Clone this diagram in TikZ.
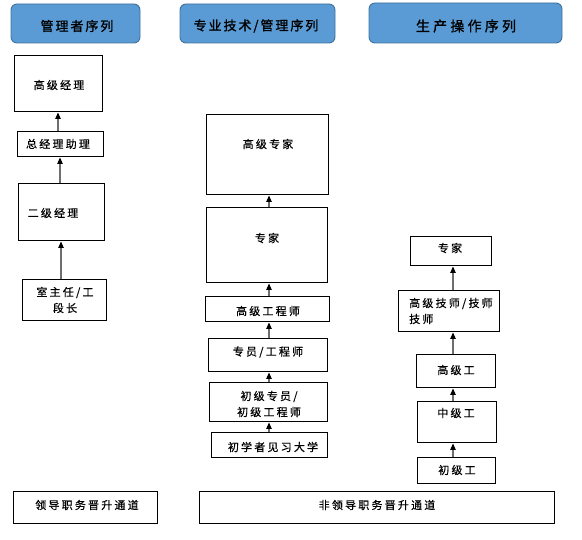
\documentclass[tikz,border=0pt]{standalone}
\usepackage{fontspec}
\newfontfamily\cjk{Noto Sans CJK SC}
\usetikzlibrary{arrows.meta}
\definecolor{hdrfill}{HTML}{5B9BD5}
\definecolor{hdrdraw}{HTML}{41719C}
\definecolor{arrgray}{HTML}{6E6E6E}
\tikzset{
  hdr/.style={draw=hdrdraw, line width=0.9pt, fill=hdrfill, rounded corners=6pt, inner sep=0pt},
  box/.style={draw=black, line width=1pt, inner sep=0pt},
  txt/.style={inner sep=0pt, font=\cjk\addfontfeatures{LetterSpace=20,FakeBold=0.6}\fontsize{11}{16}\selectfont},
  hdrtxt/.style={inner sep=0pt, font=\cjk\addfontfeatures{LetterSpace=15,FakeBold=1.2}\fontsize{13}{16}\selectfont},
  arr/.style={draw=arrgray, line width=1.2pt, -{Triangle[length=6.5pt,width=5.5pt,color=black]}},
}
\begin{document}
\begin{tikzpicture}[x=1pt,y=-1pt]
\useasboundingbox (0,0) rectangle (582,540);
% headers
\node[hdr, minimum width=129pt, minimum height=39pt] (h1) at (75.5,23.5) {};
\node[hdr, minimum width=155pt, minimum height=39pt] (h2) at (257.5,23.5) {};
\node[hdr, minimum width=193pt, minimum height=40pt] (h3) at (465.5,23) {};
\node[hdrtxt] (h1t) at (77,26) {管理者序列};
\node[hdrtxt] (h2t) at (256,26) {专业技术/管理序列};
\node[hdrtxt, font=\cjk\addfontfeatures{LetterSpace=23,FakeBold=1.2}\fontsize{14}{16}\selectfont] (h3t) at (466,26) {生产操作序列};
% left column
\node[box, minimum width=88pt, minimum height=56pt] (gj) at (58,84) {};
\node[box, minimum width=86pt, minimum height=25pt] (zl) at (60,144.5) {};
\node[box, minimum width=86pt, minimum height=57pt] (ej) at (61,212.5) {};
\node[box, minimum width=84pt, minimum height=41pt] (sz) at (64,300.5) {};
\node[txt] (gjt) at (59,85) {高级经理};
\node[txt] (zlt) at (58,144) {总经理助理};
\node[txt] (ejt) at (53,213) {二级经理};
\node[txt, align=center] (szt) at (65,300) {室主任/工\\段长};
\draw[arr] (zl.north -| gj.south) -- (gj.south);
\draw[arr] (ej.north -| zl.south) -- (zl.south);
\draw[arr] (sz.north -| ej.south) -- (ej.south);
% middle column
\node[box, minimum width=122pt, minimum height=80pt] (gzj) at (267,155) {};
\node[box, minimum width=121pt, minimum height=75pt] (mzj) at (266.5,245.5) {};
\node[box, minimum width=124pt, minimum height=25pt] (gcs) at (267,309.5) {};
\node[box, minimum width=119pt, minimum height=33pt] (zy) at (267.5,355.5) {};
\node[box, minimum width=118pt, minimum height=39pt] (cj) at (268,402.5) {};
\node[box, minimum width=116pt, minimum height=25pt] (cx) at (269,445.5) {};
\node[txt] (gzjt) at (268,144) {高级专家};
\node[txt] (mzjt) at (267,238) {专家};
\node[txt] (gcst) at (268,311) {高级工程师};
\node[txt] (zyt) at (268,352) {专员/工程师};
\node[txt, align=center] (cjt) at (269,404) {初级专员/\\初级工程师};
\node[txt] (cxt) at (273,447) {初学者见习大学};
\draw[arr] (cx.north -| cx.north) -- (cj.south -| cx.north);
\draw[arr] (cj.north -| cx.north) -- (zy.south -| cx.north);
\draw[arr] (zy.north -| cx.north) -- (gcs.south -| cx.north);
\draw[arr] (gcs.north -| cx.north) -- (mzj.south -| cx.north);
\draw[arr] (mzj.north -| cx.north) -- (gzj.south -| cx.north);
% right column
\coordinate (rcol) at (453,0);
\node[box, minimum width=81pt, minimum height=29pt] (rzj) at (450.5,251.5) {};
\node[box, minimum width=101pt, minimum height=41pt] (gjjs) at (448.5,311.5) {};
\node[box, minimum width=79pt, minimum height=33pt] (gjg) at (455.5,371.5) {};
\node[box, minimum width=79pt, minimum height=41pt] (zjg) at (456.5,422.5) {};
\node[box, minimum width=78pt, minimum height=26pt] (cjg) at (456,471) {};
\node[txt] (rzjt) at (450,248) {专家};
\node[txt, align=left, anchor=west] (gjjst) at (409,311) {高级技师/技师\\技师};
\node[txt] (gjgt) at (456,370) {高级工};
\node[txt] (zjgt) at (456,413) {中级工};
\node[txt] (cjgt) at (457,470) {初级工};
\draw[arr] (cjg.north -| rcol) -- (zjg.south -| rcol);
\draw[arr] (zjg.north -| rcol) -- (gjg.south -| rcol);
\draw[arr] (gjg.north -| rcol) -- (gjjs.south -| rcol);
\draw[arr] (gjjs.north -| rcol) -- (rzj.south -| rcol);
% bottom
\node[box, minimum width=144pt, minimum height=32pt] (b1) at (85,508) {};
\node[box, minimum width=355pt, minimum height=32pt] (b2) at (376.5,508) {};
\node[txt] (b1t) at (87,505) {领导职务晋升通道};
\node[txt] (b2t) at (377,505) {非领导职务晋升通道};
\end{tikzpicture}
\end{document}
